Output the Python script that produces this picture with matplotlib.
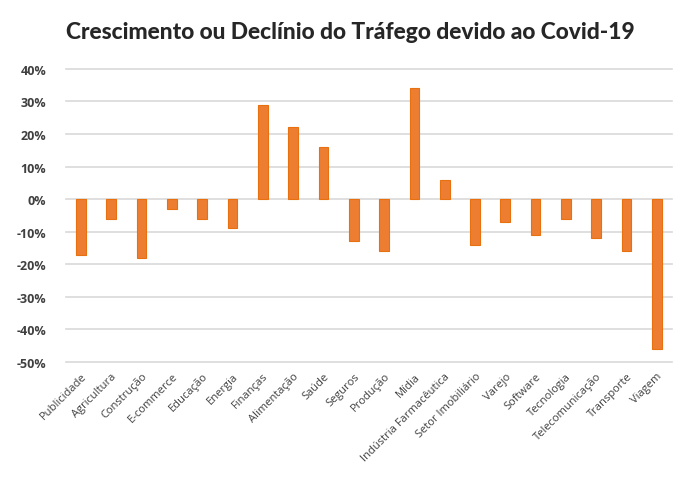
import numpy as np
import matplotlib.pyplot as plt
from matplotlib.ticker import FuncFormatter, MultipleLocator

# dados
setores = ["Publicidade", "Agricultura", "Construção", "E-commerce", "Educação",
           "Energia", "Finanças", "Alimentação", "Saúde", "Seguros", "Produção",
           "Mídia", "Indústria Farmacêutica", "Setor Imobiliário", "Varejo",
           "Software", "Tecnologia", "Telecomunicação", "Transporte", "Viagem"]
variacao = [-17, -6, -18, -3, -6, -9, 29, 22, 16, -13, -16,
            34, 6, -14, -7, -11, -6, -12, -16, -46]
titulo = "Crescimento ou Declínio do Tráfego devido ao Covid-19"

fig = plt.figure(figsize=(7, 4.85), dpi=100)
ax = fig.add_axes([0.094, 0.2515, 0.866, 0.6045])

x = np.arange(len(setores))
ax.bar(x, np.array(variacao) / 100, width=0.32, color="#ED7D31",
       edgecolor="#E8700F", linewidth=0.8, zorder=3)

ax.set_ylim(-0.5, 0.4)
ax.set_xlim(-0.5, len(setores) - 0.5)
ax.yaxis.set_major_locator(MultipleLocator(0.1))
ax.yaxis.set_major_formatter(FuncFormatter(lambda v, p: "%d%%" % round(v * 100)))
ax.grid(axis="y", color="#D9D9D9", linewidth=1.2, zorder=0)
for gl in ax.get_ygridlines():
    gl.set_clip_on(False)
for s in ax.spines.values():
    s.set_visible(False)
ax.tick_params(length=0)
ax.tick_params(axis="y", labelsize=9, labelcolor="#404040", pad=14)
for lb in ax.get_yticklabels():
    lb.set_fontweight("bold")
    lb.set_family("Open Sans")

ax.set_xticks(x)
ax.set_xticklabels(setores, rotation=45, ha="right", rotation_mode="anchor",
                   fontsize=8, color="#404040", family="Open Sans")
ax.tick_params(axis="x", pad=6)

fig.text(0.5, 0.932, titulo, ha="center", va="center", fontsize=16.4,
         fontweight="black", color="#262626", family="Lato")

fig.savefig("out.png")
